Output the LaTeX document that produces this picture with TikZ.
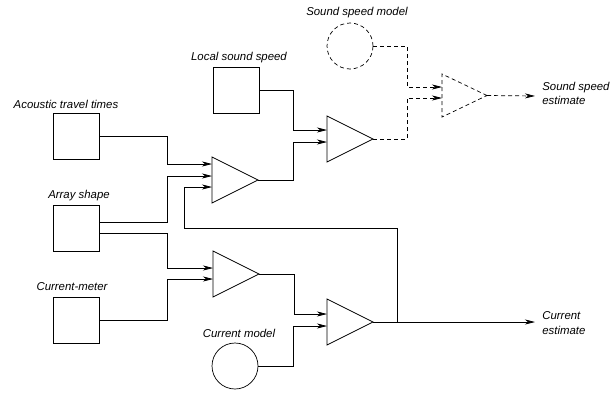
\documentclass[tikz,border=0pt]{standalone}
\usepackage{fontspec}
\setsansfont{Liberation Sans}
\usetikzlibrary{arrows.meta,shapes.geometric}
\begin{document}
\begin{tikzpicture}[
        x=1pt, y=-1pt,
        line width=0.7pt,
        databox/.style={
            rectangle,
            draw,
            minimum size=46pt,
            inner sep=0pt,
            outer sep=0pt
        },
        model/.style={
            circle,
            draw,
            minimum size=46pt,
            inner sep=0pt,
            outer sep=0pt
        },
        combiner/.style={
            isosceles triangle,
            isosceles triangle stretches,
            draw,
            minimum width=46pt,
            minimum height=46pt,
            inner sep=0pt,
            outer sep=0pt,
            anchor=west
        },
        lbl/.style={
            font=\sffamily\itshape\fontsize{11.4}{14.5}\selectfont,
            inner sep=0pt
        },
        flow/.style={-{Stealth[length=10pt,width=5pt,inset=3pt]}},
        guess/.style={dash pattern=on 4pt off 3pt}
    ]
        \useasboundingbox (0,0) rectangle (613,402);

        % Nodi: dati misurati
        \foreach \name/\x/\y in {loc/236/90, acou/76/136, arr/76/228, cm/76/320} {
            \node[databox] (\name) at (\x,\y) {};
        }
        % Modelli
        \node[model, guess] (ssm) at (350,46) {};
        \node[model] (cmod) at (235,366) {};

        % Combinatori
        \node[combiner] (t1) at (212,180) {};
        \node[combiner] (t2) at (327,139) {};
        \node[combiner, guess, minimum width=43pt, minimum height=45pt] (t3) at (442,95.5) {};
        \node[combiner] (t4) at (213,274) {};
        \node[combiner] (t5) at (327,322) {};

        % Etichette
        \node[lbl] (lssm) at (357,13) {Sound speed model};
        \node[lbl] (lloc) at (239,58) {Local sound speed};
        \node[lbl] (lacou) at (66,104) {Acoustic travel times};
        \node[lbl] (larr) at (79,196) {Array shape};
        \node[lbl] (lcm) at (72,287) {Current-meter};
        \node[lbl] (lcmod) at (239,333) {Current model};
        \node[lbl, anchor=west, align=left] (lsse) at (542,93.5) {Sound speed\\estimate};
        \node[lbl, anchor=west, align=left] (lce) at (542,323) {Current\\estimate};

        \coordinate (fb) at (184,228);
        \coordinate (ssend) at (535,96);
        \coordinate (ceend) at (535,322);

        % Collegamenti
        \draw[flow] (acou.east) -- ++(68,0) |- ([yshift=16pt]t1.west);
        \draw[flow] ([yshift=6pt]arr.east) -- ++(68,0) |- ([yshift=4pt]t1.west);
        \draw[flow] (t5.apex) -- ++(24,0) |- (fb) |- ([yshift=-7pt]t1.west);
        \draw[flow] ([yshift=-5pt]arr.east) -- ++(68,0) |- ([yshift=6pt]t4.west);
        \draw[flow] (cm.east) -- ++(68,0) |- ([yshift=-5pt]t4.west);
        \draw[flow] (loc.east) -- ++(34,0) |- ([yshift=9pt]t2.west);
        \draw[flow] (t1.apex) -- ++(35,0) |- ([yshift=-3pt]t2.west);
        \draw[flow] (t4.apex) -- ++(35,0) |- ([yshift=8pt]t5.west);
        \draw[flow] (cmod.east) -- ++(35,0) |- ([yshift=-4pt]t5.west);
        \draw[flow, guess] (ssm.east) -- ++(34,0) |- ([yshift=8.5pt]t3.west);
        \draw[flow, guess] (t2.apex) -- ++(34,0) |- ([yshift=-2.5pt]t3.west);
        \draw[flow, guess] (t3.apex) -- (ssend);
        \draw[flow] (t5.apex) -- (ceend);
    \end{tikzpicture}
\end{document}
